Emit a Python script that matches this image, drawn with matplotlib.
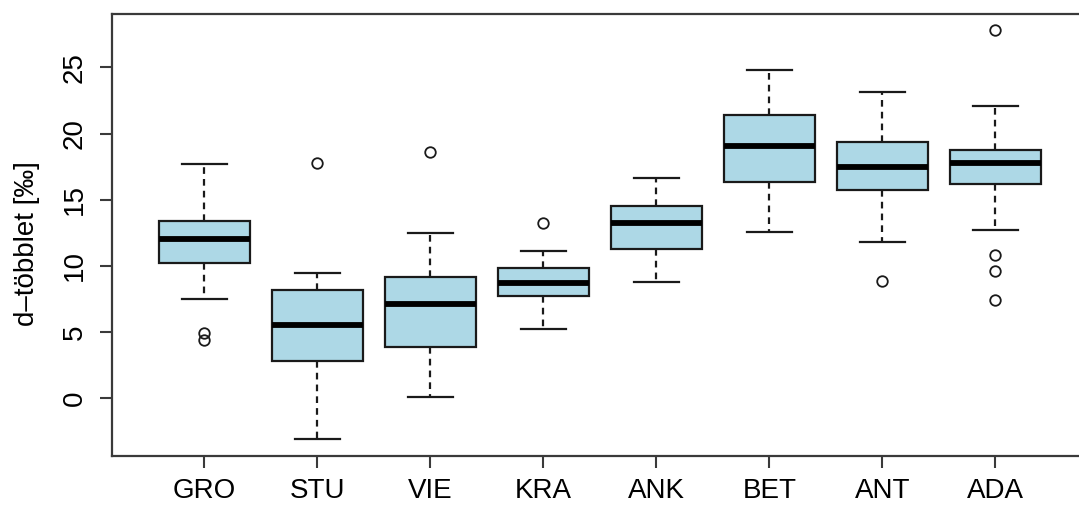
import matplotlib
matplotlib.use("Agg")
import matplotlib.pyplot as plt

plt.rcParams['font.family'] = ['Liberation Sans', 'DejaVu Sans']

# Sites and five-number summaries of the d-excess values (per mille)
sites = ["GRO", "STU", "VIE", "KRA", "ANK", "BET", "ANT", "ADA"]
whisker_low = [7.52, -3.07, 0.12, 5.21, 8.81, 12.58, 11.81, 12.71]
q1 = [10.24, 2.82, 3.87, 7.75, 11.25, 16.34, 15.76, 16.21]
median = [12.06, 5.51, 7.15, 8.69, 13.24, 19.03, 17.49, 17.80]
q3 = [13.41, 8.20, 9.18, 9.84, 14.50, 21.37, 19.34, 18.73]
whisker_high = [17.72, 9.44, 12.49, 11.13, 16.66, 24.77, 23.11, 22.10]
outliers = [
    [4.95, 4.40],
    [17.75],
    [18.60],
    [13.26],
    [],
    [],
    [8.86],
    [27.79, 10.85, 9.61, 7.42],
]
yticks = [0, 5, 10, 15, 20, 25]

stats = []
for i, name in enumerate(sites):
    stats.append(dict(label=name, whislo=whisker_low[i], q1=q1[i],
                      med=median[i], q3=q3[i], whishi=whisker_high[i],
                      fliers=outliers[i]))

W, H = 1079, 505
fig = plt.figure(figsize=(W / 100, H / 100), dpi=100)
left, right, top, bottom = 111.7, 1088.0, 14.0, 455.7
ax = fig.add_axes([left / W, 1 - bottom / H, (right - left) / W, (bottom - top) / H])

frame = "#3a3a3a"
lw = 1.6
ax.bxp(stats, positions=range(1, len(sites) + 1), widths=0.8,
       patch_artist=True, capwidths=0.4,
       boxprops=dict(facecolor="#ADD8E6", edgecolor="#1a1a1a", linewidth=lw),
       medianprops=dict(color="black", linewidth=4.2, solid_capstyle="butt"),
       whiskerprops=dict(color="#1a1a1a", linewidth=lw, linestyle=(0, (3.0, 2.3))),
       capprops=dict(color="#1a1a1a", linewidth=lw),
       flierprops=dict(marker="o", markerfacecolor="none", markeredgecolor="#1a1a1a",
                       markersize=7.6, markeredgewidth=1.3, linestyle="none"))

ax.set_xlim(0.18, 8.82)
ax.set_ylim(-4.34, 29.03)
ax.set_yticks(yticks)
ax.set_yticklabels([str(t) for t in yticks])

for sp in ax.spines.values():
    sp.set_color(frame)
    sp.set_linewidth(1.6)

ax.tick_params(axis="both", colors=frame, labelcolor="black", length=8.6,
               width=1.5, labelsize=20)
ax.tick_params(axis="x", pad=7.5)
ax.tick_params(axis="y", pad=8.5)
for lab in ax.get_yticklabels():
    lab.set_rotation(90)
    lab.set_va("center")

ax.set_ylabel("d–többlet [‰]", fontsize=20)
ax.yaxis.set_label_coords((27 - left) / (right - left), 0.48)
ax.yaxis.label.set_va("center")

fig.savefig("out.png", dpi=100)
